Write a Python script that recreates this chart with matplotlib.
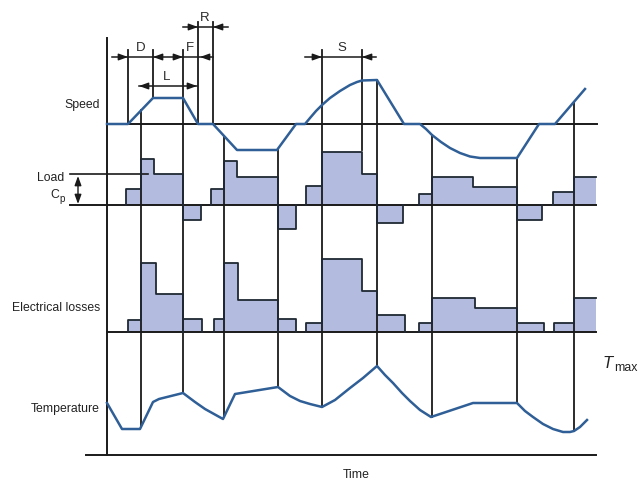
import numpy as np
import matplotlib
matplotlib.use("Agg")
import matplotlib.pyplot as plt

plt.rcParams['font.family'] = ['Liberation Sans', 'DejaVu Sans']

# time instants where the duty cycle changes (shared vertical lines)
event_t = [141, 183, 224, 278, 322, 377, 432, 517, 574]

# speed profile: time, height above the zero-speed line
speed_t = [107, 128, 153, 183, 198, 213, 237, 277, 296, 305, 310, 316, 322, 330, 340,
           350, 357, 362, 377, 404, 420, 426, 432, 441, 450, 460, 470, 480, 517, 539,
           555, 585]
speed_v = [0, 0, 26, 26, 0, 0, -26, -26, 0, 0, 6, 13, 19, 26, 33,
           39, 42, 43.5, 44, 0, 0, -5, -11, -18, -24, -29, -32.5, -34, -34, 0,
           0, 35]

# load torque steps: (time edges, level above zero load)
load_steps = [
    ([126, 141, 154, 183], [16, 46, 31]),
    ([183, 201], [-15]),
    ([211, 224, 237, 278], [16, 44, 28]),
    ([278, 296], [-24]),
    ([306, 322, 362, 377], [19, 53, 31]),
    ([377, 403], [-18]),
    ([419, 432, 473, 517], [11, 28, 18]),
    ([517, 542], [-15]),
    ([553, 574, 596], [13, 28]),
]

# electrical losses steps
loss_steps = [
    ([128, 141, 156, 183], [12, 69, 38]),
    ([183, 202], [13]),
    ([214, 224, 238, 278], [13, 69, 32]),
    ([278, 296], [13]),
    ([306, 322, 362, 377, 405], [9, 73, 41, 17]),
    ([419, 432, 475, 517, 544], [9, 34, 24, 9]),
    ([554, 574, 596], [9, 34]),
]

# motor temperature: time, height above the time axis
temp_t = [107, 122, 140, 153, 159, 183, 195, 205, 214, 223, 235, 278, 290, 300, 310,
          322, 335, 350, 363, 377, 385, 393, 402, 410, 420, 431, 473, 517, 525, 533,
          543, 553, 563, 570, 574, 580, 587]
temp_v = [52, 26, 26, 53, 56, 62, 53, 46, 41, 36, 61, 68, 59, 54, 51,
          48, 55, 67, 77, 89, 80, 72, 62, 54, 45, 38, 52, 52, 44, 38,
          31, 26, 23, 23, 24, 28, 35]

# dimension marks: (row, line start, line end, [(tip, direction)])
dims = [
    (57, 112, 213, [(128, 1), (153, -1), (183, 1), (200, -1)]),
    (27, 183, 228, [(198, 1), (213, -1)]),
    (86, 139, 197, [(139, -1), (197, 1)]),
    (57, 305, 376, [(322, 1), (362, -1)]),
]
dim_labels = [("D", 141, 48), ("F", 190, 48), ("R", 205, 18), ("L", 167, 77), ("S", 342, 48)]

# short guide lines: (time, top, bottom)
guides = [(128, 50, 124), (153, 50, 98), (198, 22, 124), (213, 22, 124), (362, 50, 150)]

SPEED_Y0, LOAD_Y0, LOSS_Y0, TIME_Y0 = 124, 205, 332, 455
X0, X1 = 107, 596
BLACK = '#1a1a1a'
BLUE = '#2f5f96'
FILL = '#b3bcdf'
EDGE = '#1f2833'


def draw_steps(ax, steps, base):
    for edges, levels in steps:
        xs = [edges[0]]
        ys = [base]
        for k, lv in enumerate(levels):
            xs += [edges[k], edges[k + 1]]
            ys += [base - lv, base - lv]
        fx = xs + [edges[-1]]
        fy = ys + [base]
        ax.fill(fx, fy, color=FILL, lw=0, zorder=1)
        if edges[-1] >= X1:
            # last block is open on the right
            ax.plot(xs, ys, color=EDGE, lw=1.3, zorder=3)
        else:
            ax.plot(fx, fy, color=EDGE, lw=1.3, zorder=3)


fig = plt.figure(figsize=(6.4, 4.82), dpi=100)
ax = fig.add_axes([0, 0, 1, 1])
ax.set_xlim(0, 640)
ax.set_ylim(482, 0)
ax.axis('off')

draw_steps(ax, load_steps, LOAD_Y0)
draw_steps(ax, loss_steps, LOSS_Y0)

# axes and zero lines
ax.plot([X0, X0], [38, TIME_Y0], color=BLACK, lw=1.4, zorder=2)
ax.plot([86, X1], [TIME_Y0, TIME_Y0], color=BLACK, lw=1.4, zorder=2)
ax.plot([X0, X1 + 1], [SPEED_Y0, SPEED_Y0], color=BLACK, lw=1.4, zorder=2)
ax.plot([70, X1], [LOAD_Y0, LOAD_Y0], color=BLACK, lw=1.4, zorder=2)
ax.plot([X0, X1], [LOSS_Y0, LOSS_Y0], color=BLACK, lw=1.4, zorder=2)
ax.plot([70, 148], [174, 174], color=BLACK, lw=1.2, zorder=2)

# event lines from speed curve (or dimension row) down to the temperature curve
for t in event_t:
    top = SPEED_Y0 - np.interp(t, speed_t, speed_v)
    if t in (183, 322):
        top = 50
    bot = TIME_Y0 - np.interp(t, temp_t, temp_v)
    ax.plot([t, t], [top, bot], color=BLACK, lw=1.3, zorder=2)

for t, top, bot in guides:
    ax.plot([t, t], [top, bot], color=BLACK, lw=1.3, zorder=2)

# curves
ax.plot(speed_t, SPEED_Y0 - np.array(speed_v), color=BLUE, lw=1.8, zorder=4)
ax.plot(temp_t, TIME_Y0 - np.array(temp_v), color=BLUE, lw=1.8, zorder=4)

# dimension arrows
astyle = dict(arrowstyle='-|>,head_length=0.55,head_width=0.2', color=BLACK,
              lw=1.0, mutation_scale=10, shrinkA=0, shrinkB=0)
for y, xa, xb, tips in dims:
    ax.plot([xa, xb], [y, y], color=BLACK, lw=1.1, zorder=3)
    for tip, d in tips:
        ax.annotate('', xy=(tip, y), xytext=(tip - d * 9, y), arrowprops=astyle, zorder=5)
for txt, x, y in dim_labels:
    ax.text(x, y, txt, fontsize=9.5, color='#2a2a2a', ha='center', va='center')

# Cp double arrow
ax.annotate('', xy=(78, 176), xytext=(78, 204),
            arrowprops=dict(arrowstyle='<|-|>,head_length=0.55,head_width=0.2',
                            color=BLACK, lw=1.0, mutation_scale=10, shrinkA=0, shrinkB=0))

# labels
lab = dict(fontsize=8.8, color='#222222', va='center')
ax.text(100, 105, 'Speed', ha='right', **lab)
ax.text(37, 178, 'Load', ha='left', **lab)
ax.text(50, 195, 'C', ha='left', **lab)
ax.text(59, 199.5, 'p', ha='left', fontsize=7, color='#222222', va='center')
ax.text(100, 308, 'Electrical losses', ha='right', **lab)
ax.text(100, 409, 'Temperature', ha='right', **lab)
ax.text(356, 475, 'Time', ha='center', **lab)
ax.text(603, 364, 'T', ha='left', va='center', fontsize=12, style='italic', color='#222222')
ax.text(614, 368, 'max', ha='left', **lab)

fig.savefig('out.png', dpi=100)
